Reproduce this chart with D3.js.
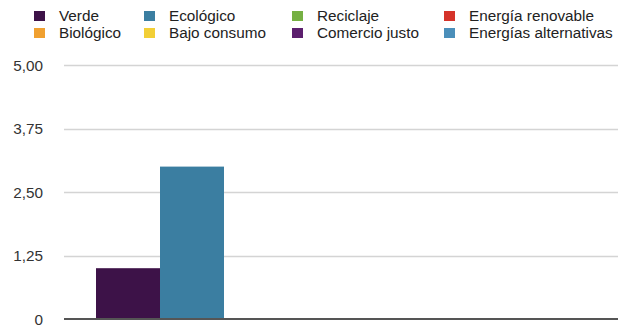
<!DOCTYPE html>
<html>
<head>
<meta charset="utf-8">
<script src="https://cdn.jsdelivr.net/npm/d3@7"></script>
<style>
  html, body { margin: 0; padding: 0; background: #fff; }
  svg { display: block; font-family: "Liberation Sans", Arial, Helvetica, sans-serif; }
</style>
</head>
<body>
<svg id="chart" width="618" height="325"></svg>
<script>
// Series names, in legend order
const seriesNames = [
  "Verde", "Ecológico", "Reciclaje", "Energía renovable",
  "Biológico", "Bajo consumo", "Comercio justo", "Energías alternativas"
];
// One value per series for the single category
const seriesValues = [1, 3, 0, 0, 0, 0, 0, 0];
const seriesColors = [
  "#3d1248", "#3b7ea1", "#76b043", "#d5332a",
  "#f0a030", "#f2cf36", "#5c1f6e", "#4b8fba"
];
const categories = [""];
const yTicks = [0, 1.25, 2.5, 3.75, 5];
const yTickLabels = ["0", "1,25", "2,50", "3,75", "5,00"];

const svg = d3.select("#chart");
const plot = { left: 64, right: 640, top: 65, bottom: 319 };

const y = d3.scaleLinear().domain([0, 5]).range([plot.bottom, plot.top]);
const x0 = d3.scaleBand().domain(categories).range([plot.left, plot.right]).paddingOuter(0.0625);
const x1 = d3.scaleBand().domain(seriesNames).range([0, x0.bandwidth()]);

// Horizontal grid lines
svg.append("g")
  .selectAll("line")
  .data(yTicks.filter(d => d > 0))
  .join("line")
  .attr("x1", plot.left).attr("x2", 618)
  .attr("y1", d => Math.round(y(d)) + 0.5).attr("y2", d => Math.round(y(d)) + 0.5)
  .attr("stroke", "#d4d4d4").attr("stroke-width", 1.5);

// Y axis labels
const yAxis = d3.axisLeft(y).tickValues(yTicks).tickSize(0).tickPadding(0)
  .tickFormat((d, i) => yTickLabels[i]);
const ya = svg.append("g").attr("transform", `translate(43,0)`).call(yAxis);
ya.select(".domain").remove();
ya.selectAll("text").attr("font-size", 15.3).attr("fill", "#333")
  .attr("font-family", "Liberation Sans, Arial, sans-serif").attr("dy", "0.35em");

// Bars
svg.append("g")
  .selectAll("g")
  .data(categories)
  .join("g")
  .attr("transform", d => `translate(${x0(d)},0)`)
  .selectAll("rect")
  .data(() => seriesNames.map((name, i) => ({ name, value: seriesValues[i], color: seriesColors[i] })))
  .join("rect")
  .attr("x", d => x1(d.name))
  .attr("width", x1.bandwidth())
  .attr("y", d => y(d.value))
  .attr("height", d => y(0) - y(d.value))
  .attr("fill", d => d.color);

// Baseline
svg.append("line")
  .attr("x1", plot.left).attr("x2", 618)
  .attr("y1", y(0)).attr("y2", y(0))
  .attr("stroke", "#555").attr("stroke-width", 2);

// Legend: two rows of four
const legendX = [34, 144, 292, 444];
const legendY = [11, 28];
const legend = svg.append("g")
  .selectAll("g")
  .data(seriesNames)
  .join("g")
  .attr("transform", (d, i) => `translate(${legendX[i % 4]},${legendY[Math.floor(i / 4)]})`);
legend.append("rect")
  .attr("width", 11).attr("height", 10)
  .attr("fill", (d, i) => seriesColors[i]);
legend.append("text")
  .attr("x", 25).attr("y", 9.5)
  .attr("font-size", 15.3).attr("fill", "#222")
  .text(d => d);
</script>
</body>
</html>
